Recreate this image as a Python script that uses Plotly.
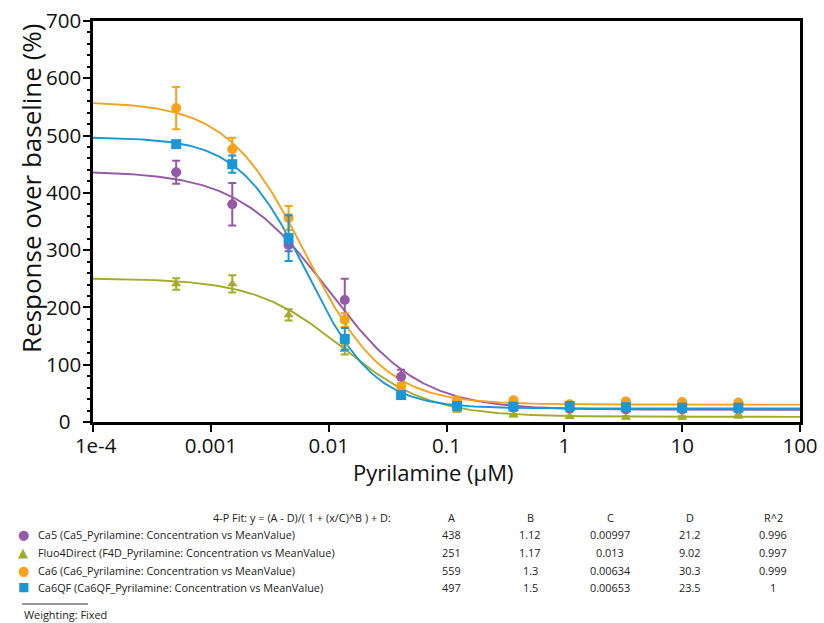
import numpy as np
import plotly.graph_objects as go

# ---- data ----
conc = [0.000508, 0.00152, 0.00457, 0.0137, 0.0412, 0.123, 0.370, 1.11, 3.33, 10.0, 30.0]

series_names = ["Ca5", "Fluo4Direct", "Ca6", "Ca6QF"]
series_desc = [
    "Ca5 (Ca5_Pyrilamine: Concentration vs MeanValue)",
    "Fluo4Direct (F4D_Pyrilamine: Concentration vs MeanValue)",
    "Ca6 (Ca6_Pyrilamine: Concentration vs MeanValue)",
    "Ca6QF (Ca6QF_Pyrilamine: Concentration vs MeanValue)",
]
ca5_y = [436, 380, 309, 213, 79, 36, 25, 23, 22, 22, 22]
ca5_err = [20, 37, 11, 37, 12, 4, 3, 3, 3, 3, 3]
f4d_y = [241, 241, 187, 126, 50, 21, 12, 9, 8, 8, 10]
f4d_err = [10, 15, 10, 8, 4, 3, 2, 2, 2, 2, 2]
ca6_y = [548, 476, 356, 178, 62, 38, 38, 31, 36, 35, 34]
ca6_err = [37, 20, 21, 12, 5, 4, 4, 3, 3, 3, 3]
ca6qf_y = [485, 450, 321, 145, 47, 28, 27, 28, 26, 25, 25]
ca6qf_err = [5, 15, 40, 19, 4, 3, 3, 3, 3, 3, 3]

# 4-P fit parameters (A, B, C, D, R^2) from the table
fit_A = [438, 251, 559, 497]
fit_B = [1.12, 1.17, 1.3, 1.5]
fit_C = [0.00997, 0.013, 0.00634, 0.00653]
fit_D = [21.2, 9.02, 30.3, 23.5]
fit_A_txt = ["438", "251", "559", "497"]
fit_B_txt = ["1.12", "1.17", "1.3", "1.5"]
fit_C_txt = ["0.00997", "0.013", "0.00634", "0.00653"]
fit_D_txt = ["21.2", "9.02", "30.3", "23.5"]
fit_R2_txt = ["0.996", "0.997", "0.999", "1"]

NB = "\u00a0"
x_tickvals = [1e-4, 1e-3, 1e-2, 1e-1, 1, 10, 100]
x_ticktext = [NB + "1e-4", "0.001", "0.01", "0.1", "1", "10", "100"]
y_tickvals = [0, 100, 200, 300, 400, 500, 600, 700]
y_ticktext = ["0" + NB + NB, "100", "200", "300", "400", "500", "600", "700"]

colors = ["#9659A6", "#A4AB2C", "#F7A11C", "#1A97D4"]
symbols = ["circle", "triangle-up", "circle", "square"]
legend_glyph = ["●", "▲", "●", "■"]

ys = [ca5_y, f4d_y, ca6_y, ca6qf_y]
errs = [ca5_err, f4d_err, ca6_err, ca6qf_err]

FONT = "Open Sans"
fig = go.Figure()

xf = np.logspace(-4, 2, 400)
for i in range(4):
    yf = (fit_A[i] - fit_D[i]) / (1 + (xf / fit_C[i]) ** fit_B[i]) + fit_D[i]
    fig.add_trace(go.Scatter(x=xf, y=yf, mode="lines",
                             line=dict(color=colors[i], width=1.9),
                             showlegend=False, hoverinfo="skip"))
for i in range(4):
    fig.add_trace(go.Scatter(
        x=conc, y=ys[i], mode="markers", name=series_names[i],
        marker=dict(symbol=symbols[i], color=colors[i], size=10 if symbols[i] != "triangle-up" else 9),
        error_y=dict(type="data", array=errs[i], color=colors[i], thickness=2, width=4),
        showlegend=False))

W, H = 824, 623
L, R, T, B = 93, 24, 21, 201
pw, ph = W - L - R, H - T - B

def px(xpix):
    return (xpix - L) / pw

def py(ypix):
    return (H - B - ypix) / ph

ann = []
small = dict(family=FONT, size=10.9, color="#222")
def add(x, y, text, xanchor="center", font=small, **kw):
    ann.append(dict(x=px(x), y=py(y), xref="paper", yref="paper", text=text,
                    xanchor=xanchor, yanchor="middle", showarrow=False, font=font, **kw))

# axis titles
add(31, 189, "Response over baseline (%)",
    font=dict(family=FONT, size=26, color="#111"), textangle=-90)
add(433, 472, "Pyrilamine (µM)", font=dict(family=FONT, size=22, color="#111"))

add(393, 517, "4-P Fit: y = (A - D)/( 1 + (x/C)^B ) + D:", "right")
col_x = [451, 530, 610, 690, 773]
for cx, h in zip(col_x, ["A", "B", "C", "D", "R^2"]):
    add(cx, 517, h)
row_y = [534, 552, 570, 587]
for i in range(4):
    add(23, row_y[i], legend_glyph[i],
        font=dict(family="DejaVu Sans", size=13 if i != 3 else 12, color=colors[i]))
    add(36, row_y[i], series_desc[i], "left")
    vals = [fit_A_txt[i], fit_B_txt[i], fit_C_txt[i], fit_D_txt[i], fit_R2_txt[i]]
    for cx, v in zip(col_x, vals):
        add(cx, row_y[i], v)
add(22, 614, "Weighting: Fixed", "left")

shapes = [dict(type="line", xref="paper", yref="paper", x0=px(22), x1=px(88),
               y0=py(604), y1=py(604), line=dict(color="#333", width=1))]

fig.update_layout(
    width=W, height=H,
    margin=dict(l=L, r=R, t=T, b=B, autoexpand=False),
    plot_bgcolor="white", paper_bgcolor="white",
    font=dict(family=FONT, color="#111"),
    annotations=ann, shapes=shapes,
    xaxis=dict(type="log", range=[-4, 2], tickvals=x_tickvals, ticktext=x_ticktext,
               showgrid=False, zeroline=False, showline=True, linecolor="black",
               linewidth=2.5, mirror=True, ticks="outside", ticklen=7, tickwidth=2,
               tickcolor="black", automargin=False, ticklabelstandoff=-3,
               tickfont=dict(size=20.5, family=FONT, color="#111")),
    yaxis=dict(range=[0, 700], tickvals=y_tickvals, ticktext=y_ticktext,
               showgrid=False, zeroline=False, showline=True,
               linecolor="black", linewidth=2.5, mirror=True, ticks="outside", ticklen=7,
               tickwidth=2, tickcolor="black", automargin=False, ticklabelstandoff=-2,
               minor=dict(tickmode="linear", tick0=0, dtick=20, ticks="outside",
                          ticklen=3, tickwidth=1.5, tickcolor="black"),
               tickfont=dict(size=20.5, family=FONT, color="#111")),
)

fig.write_html("out.html", config={"displayModeBar": False},
               post_script="document.body.style.margin='0';document.body.style.overflow='hidden';")
